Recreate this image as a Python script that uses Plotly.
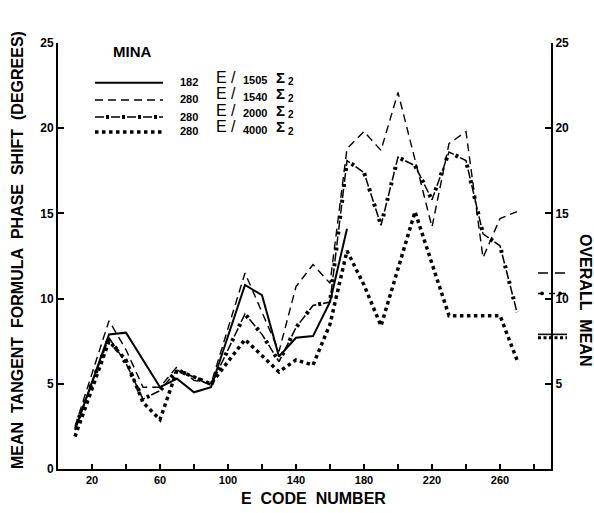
import plotly.graph_objects as go

# ---------------- data ----------------
# 182 reflections, E/1505 Sigma2  (solid)
x_182_1505 = [10, 30, 40, 60, 70, 80, 90, 110, 120, 130, 140, 150, 160, 170]
y_182_1505 = [2.3, 7.9, 8.0, 4.8, 5.3, 4.5, 4.8, 10.8, 10.2, 6.6, 7.7, 7.8, 9.8, 14.1]

# 280 reflections, E/1540 Sigma2  (dashed)
x_280_1540 = [10, 30, 40, 50, 60, 70, 80, 90, 110, 130, 140, 150, 160, 170, 180, 190,
              200, 220, 230, 240, 250, 260, 270]
y_280_1540 = [2.5, 8.7, 7.0, 4.8, 4.8, 6.0, 5.2, 5.0, 11.5, 6.9, 10.7, 12.0, 10.9, 18.8,
              19.8, 18.7, 22.1, 14.2, 19.1, 19.8, 12.4, 14.7, 15.1]

# 280 reflections, E/2000 Sigma2  (dash-dot)
x_280_2000 = [10, 30, 40, 50, 60, 70, 80, 90, 110, 120, 130, 140, 150, 160, 170, 180,
              190, 200, 210, 220, 230, 240, 250, 260, 270]
y_280_2000 = [2.4, 7.7, 6.2, 4.1, 4.6, 5.8, 5.4, 4.9, 9.1, 7.9, 6.3, 8.3, 9.6, 9.8, 18.1,
              17.4, 14.3, 18.3, 17.8, 15.8, 18.6, 18.1, 13.8, 13.1, 9.2]

# 280 reflections, E/4000 Sigma2  (dotted)
x_280_4000 = [10, 30, 40, 50, 60, 70, 80, 90, 110, 130, 140, 150, 160, 170, 180, 190,
              210, 220, 230, 260, 270]
y_280_4000 = [1.9, 7.5, 6.4, 3.9, 2.9, 5.8, 5.4, 5.0, 7.6, 5.7, 6.4, 6.1, 8.5, 12.8, 10.8,
              8.4, 15.1, 12.0, 9.0, 9.0, 6.4]

# overall means (right-hand axis marks)
mean_182_1505 = 7.9
mean_280_1540 = 11.5
mean_280_2000 = 10.3
mean_280_4000 = 7.7

# legend texts
legend_counts = ["182", "280", "280", "280"]
legend_limits = ["1505", "1540", "2000", "4000"]

# ticks
x_label_vals = [20, 60, 100, 140, 180, 220, 260]
x_label_text = ["20", "60", "100", "140", "180", "220", "260"]
x_minor_step = 20
y_left_ticks = [0, 5, 10, 15, 20, 25]
y_right_ticks = [5, 10, 15, 20, 25]

# ---------------- geometry ----------------
W, H = 594, 513
ML, MR, MT, MB = 58, 43, 43, 44
PW, PH = W - ML - MR, H - MT - MB
FONT = "Liberation Sans"


def px(x):
    return (x - ML) / PW


def py(y):
    return (H - MB - y) / PH


DASH = "8px,5px"
DD_THIN = "9px,7px"
DD_DOT = "0px,11px,3px,2px"
DOT = "3.5px,3.5px"

fig = go.Figure()

fig.add_trace(go.Scatter(x=x_182_1505, y=y_182_1505, mode="lines",
                         line=dict(color="black", width=2), hoverinfo="skip"))
fig.add_trace(go.Scatter(x=x_280_1540, y=y_280_1540, mode="lines",
                         line=dict(color="black", width=1.4, dash=DASH), hoverinfo="skip"))
fig.add_trace(go.Scatter(x=x_280_2000, y=y_280_2000, mode="lines",
                         line=dict(color="black", width=1.5, dash=DD_THIN), hoverinfo="skip"))
fig.add_trace(go.Scatter(x=x_280_2000, y=y_280_2000, mode="lines",
                         line=dict(color="black", width=4, dash=DD_DOT), hoverinfo="skip"))
fig.add_trace(go.Scatter(x=x_280_4000, y=y_280_4000, mode="lines",
                         line=dict(color="black", width=3.5, dash=DOT), hoverinfo="skip"))
# invisible trace so the right axis exists
fig.add_trace(go.Scatter(x=x_280_4000[:1], y=y_280_4000[:1], yaxis="y2", mode="lines",
                         line=dict(width=0), hoverinfo="skip", opacity=0))

shapes = []
# overall mean marks at the right axis
mx0, mx1 = px(538), px(567)
shapes.append(dict(type="line", xref="paper", yref="y", x0=mx0, x1=mx1,
                   y0=mean_280_1540, y1=mean_280_1540,
                   line=dict(color="black", width=1.4, dash="10px,7px")))
shapes.append(dict(type="line", xref="paper", yref="y", x0=mx0, x1=mx1,
                   y0=mean_280_2000, y1=mean_280_2000,
                   line=dict(color="black", width=1.5, dash="6px,5px")))
for cx in (542, 560):
    shapes.append(dict(type="circle", xref="paper", yref="y",
                       x0=px(cx - 1.8), x1=px(cx + 1.8),
                       y0=mean_280_2000 - 0.11, y1=mean_280_2000 + 0.11,
                       fillcolor="black", line=dict(width=0)))
shapes.append(dict(type="line", xref="paper", yref="y", x0=mx0, x1=mx1,
                   y0=mean_182_1505, y1=mean_182_1505,
                   line=dict(color="black", width=1.6)))
shapes.append(dict(type="line", xref="paper", yref="y", x0=mx0, x1=mx1,
                   y0=mean_280_4000, y1=mean_280_4000,
                   line=dict(color="black", width=3, dash="3px,2.5px")))

# legend samples
lx0, lx1 = px(95), px(163)
row_line = [82.7, 100, 117, 132]
shapes.append(dict(type="line", xref="paper", yref="paper", x0=lx0, x1=lx1,
                   y0=py(row_line[0]), y1=py(row_line[0]),
                   line=dict(color="black", width=2)))
shapes.append(dict(type="line", xref="paper", yref="paper", x0=lx0, x1=lx1,
                   y0=py(row_line[1]), y1=py(row_line[1]),
                   line=dict(color="black", width=1.4, dash=DASH)))
shapes.append(dict(type="line", xref="paper", yref="paper", x0=lx0, x1=lx1,
                   y0=py(row_line[2]), y1=py(row_line[2]),
                   line=dict(color="black", width=1.5, dash=DD_THIN)))
shapes.append(dict(type="line", xref="paper", yref="paper", x0=lx0, x1=lx1,
                   y0=py(row_line[2]), y1=py(row_line[2]),
                   line=dict(color="black", width=4, dash=DD_DOT)))
shapes.append(dict(type="line", xref="paper", yref="paper", x0=lx0, x1=lx1,
                   y0=py(row_line[3]), y1=py(row_line[3]),
                   line=dict(color="black", width=3.5, dash=DOT)))

annotations = []


def ann(text, x, y, size, xanchor="center", weight="bold", angle=0):
    annotations.append(dict(text=text, x=px(x), y=py(y), xref="paper", yref="paper",
                            showarrow=False, xanchor=xanchor, yanchor="middle",
                            textangle=angle,
                            font=dict(family=FONT, size=size, color="black", weight=weight)))


NB = "\u00a0\u00a0"
ann("MEAN" + NB + "TANGENT" + NB + "FORMULA" + NB + "PHASE" + NB + "SHIFT" + NB + "(DEGREES)",
    17, 250, 16, angle=-90)
ann("E" + NB + "CODE" + NB + "NUMBER", 313, 498, 16)
ann("OVERALL" + NB + "MEAN", 586, 300, 16, angle=90)
ann("MINA", 132, 52, 15)

num_y = [82, 99.5, 116.5, 131]
e_y = [77.5, 94, 110.5, 127]
val_y = [80.3, 96.5, 113, 130]
for i in range(4):
    ann(legend_counts[i], 189, num_y[i], 11)
    ann("E /", 214, e_y[i], 16, xanchor="left", weight="normal")
    ann(legend_limits[i], 255, val_y[i], 11)
    ann("\u03a3", 274, e_y[i], 15, xanchor="left")
    ann("2", 286, e_y[i] + 4, 10, xanchor="left")

fig.update_layout(
    width=W, height=H, autosize=False,
    margin=dict(l=ML, r=MR, t=MT, b=MB, pad=0),
    paper_bgcolor="white", plot_bgcolor="white",
    showlegend=False,
    shapes=shapes, annotations=annotations,
    xaxis=dict(range=[0, 290], showline=True, linecolor="black", linewidth=2,
               ticks="inside", ticklen=5, tickwidth=1.5, tickcolor="black",
               tickmode="array", tickvals=x_label_vals, ticktext=x_label_text,
               minor=dict(ticks="inside", tick0=x_label_vals[0], dtick=x_minor_step,
                          ticklen=5, tickwidth=1.5, tickcolor="black", showgrid=False),
               tickfont=dict(family=FONT, size=11, color="black", weight="bold"),
               showgrid=False, zeroline=False),
    yaxis=dict(range=[0, 25], showline=True, linecolor="black", linewidth=2,
               ticks="inside", ticklen=6, tickwidth=1.5, tickcolor="black",
               tickmode="array", tickvals=y_left_ticks,
               tickfont=dict(family=FONT, size=12, color="black", weight="bold"),
               showgrid=False, zeroline=False),
    yaxis2=dict(range=[0, 25], overlaying="y", side="right", anchor="x",
                showline=True, linecolor="black", linewidth=2,
                ticks="inside", ticklen=6, tickwidth=1.5, tickcolor="black",
                tickmode="array", tickvals=y_right_ticks,
                tickfont=dict(family=FONT, size=12, color="black", weight="bold"),
                showgrid=False, zeroline=False),
)

fig.write_html("out.html")
